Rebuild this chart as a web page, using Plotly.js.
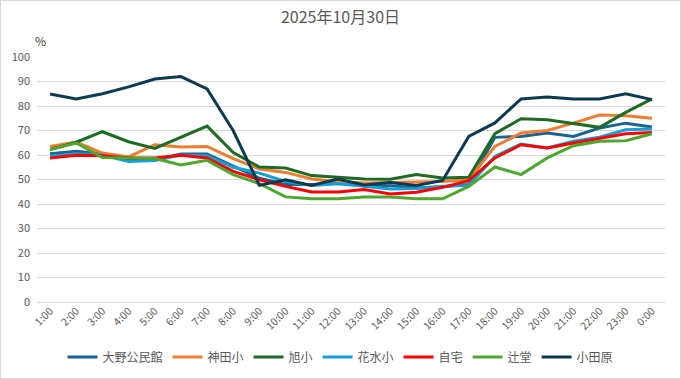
<!DOCTYPE html>
<html>
<head>
<meta charset="utf-8">
<script src="https://cdn.plot.ly/plotly-3.0.1.min.js"></script>
<style>
html,body{margin:0;padding:0;background:#fff;}
#wrap{position:relative;width:681px;height:379px;}
#chart{width:681px;height:379px;}
#frame{position:absolute;left:0;top:0;width:679px;height:377px;border:1px solid #d9d9d9;pointer-events:none;}
</style>
</head>
<body>
<div id="wrap"><div id="chart"></div><div id="frame"></div></div>
<script>
const hours = ["1:00","2:00","3:00","4:00","5:00","6:00","7:00","8:00","9:00","10:00","11:00","12:00","13:00","14:00","15:00","16:00","17:00","18:00","19:00","20:00","21:00","22:00","23:00","0:00"];

const oono    = [60.5,61.5,60.4,57.8,58.0,60.4,60.4,55.5,50.5,48.0,48.0,48.5,47.5,47.5,46.5,47.0,48.0,67.2,67.6,69.0,67.6,71.0,73.0,71.4];
const kanda   = [63.5,65.3,60.8,59.2,64.2,63.3,63.5,58.5,54.3,52.9,50.2,49.2,48.6,48.8,48.8,49.2,49.9,63.5,69.0,70.0,73.0,76.3,76.0,75.0];
const asahi   = [62.2,65.2,69.5,65.4,62.7,67.2,71.8,61.0,55.1,54.7,51.6,50.9,50.2,50.1,52.0,50.6,50.9,68.7,74.8,74.4,72.8,71.3,77.4,82.9];
const hanamizu= [59.5,60.5,60.0,57.4,57.8,60.0,59.7,55.0,52.6,49.2,47.6,48.3,47.2,46.1,46.3,47.2,47.6,59.4,64.5,62.9,65.6,67.3,70.3,70.6];
const home    = [58.8,59.9,59.7,58.8,58.8,59.9,58.8,53.3,49.9,47.2,44.9,44.9,45.9,44.1,44.8,46.8,49.5,58.8,64.2,62.9,64.9,66.8,68.7,69.2];
const tsujido = [62.2,64.9,59.0,58.8,58.6,55.9,57.8,52.0,48.3,42.9,42.1,42.1,42.9,42.9,42.1,42.1,47.2,55.1,52.0,58.8,63.8,65.6,65.8,68.7];
const odawara = [84.9,82.9,85.0,87.8,91.0,92.0,87.0,69.9,47.6,49.9,47.6,50.2,47.8,48.8,47.6,49.6,67.6,73.1,82.9,83.7,82.9,82.9,85.0,82.6];

const names  = ["大野公民館","神田小","旭小","花水小","自宅","辻堂","小田原"];
const series = [oono, kanda, asahi, hanamizu, home, tsujido, odawara];
const colors = ["#1B6390","#ED7D31","#1E6B24","#12A0D8","#FF0000","#4EA72E","#0E3A50"];

const FONT = "Noto Sans CJK JP, Noto Sans, sans-serif";

const traces = series.map((s, i) => ({
  type: "scatter",
  mode: "lines",
  name: names[i],
  x: hours,
  y: s,
  line: {color: colors[i], width: 3},
  hoverinfo: "x+y+name"
}));

const layout = {
  width: 681,
  height: 379,
  margin: {l: 37, r: 16, t: 57, b: 77},
  paper_bgcolor: "#ffffff",
  plot_bgcolor: "#ffffff",
  font: {family: FONT, color: "#595959", size: 11},
  title: {
    text: "2025年10月30日",
    font: {family: FONT, size: 16, color: "#595959"},
    x: 0.5, xanchor: "center",
    y: 1 - 17/379, yanchor: "middle"
  },
  xaxis: {
    type: "category",
    range: [-0.5, 23.5],
    tickangle: -45,
    tickfont: {size: 10.5, color: "#595959"},
    showgrid: false,
    showline: false,
    zeroline: false,
    ticks: "",
    automargin: false
  },
  yaxis: {
    range: [0, 100],
    dtick: 10,
    tick0: 0,
    gridcolor: "#d9d9d9",
    gridwidth: 1,
    zeroline: true,
    zerolinecolor: "#d9d9d9",
    zerolinewidth: 1,
    showline: false,
    ticks: "",
    tickfont: {size: 11, color: "#595959"},
    ticklabelstandoff: 6,
    automargin: false
  },
  showlegend: true,
  legend: {
    orientation: "h",
    xref: "container", yref: "container",
    x: 0.5, xanchor: "center",
    y: 1 - 357/379, yanchor: "middle",
    font: {size: 12, color: "#595959", family: FONT},
    itemwidth: 30,
    traceorder: "normal"
  },
  annotations: [{
    text: "%",
    xref: "paper", yref: "paper",
    x: (40 - 37) / 628, y: (302 - 40) / 245,
    xanchor: "center", yanchor: "middle",
    showarrow: false,
    font: {size: 12, color: "#404040", family: FONT}
  }]
};

Plotly.newPlot("chart", traces, layout, {displayModeBar: false, staticPlot: true});
</script>
</body>
</html>
